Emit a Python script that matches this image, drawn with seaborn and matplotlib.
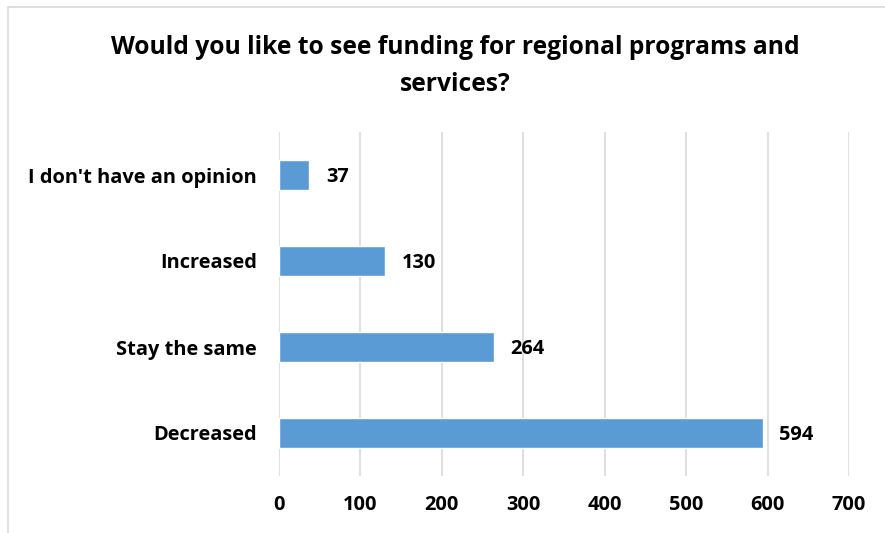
import matplotlib
matplotlib.use("Agg")
import matplotlib.pyplot as plt
import seaborn as sns
import pandas as pd
from matplotlib.patches import Rectangle

categories = ["I don't have an opinion", "Increased", "Stay the same", "Decreased"]
values = [37, 130, 264, 594]
xticks = [0, 100, 200, 300, 400, 500, 600, 700]
title = "Would you like to see funding for regional programs and\nservices?"

sns.set_theme(style="white")
plt.rcParams['font.family'] = ['Open Sans', 'DejaVu Sans']

df = pd.DataFrame({"category": categories, "value": values})

fig = plt.figure(figsize=(8.85, 5.33), dpi=100)
ax = fig.add_axes([279/885, 1-476/533, (849-279)/885, (476-132)/533])

sns.barplot(data=df, y="category", x="value", order=categories, color="#5B9BD5",
            width=0.35, saturation=1, ax=ax, zorder=3)

FS = 14.4
ax.set_xlim(0, 700)
ax.set_xticks(xticks)
ax.set_xticklabels([str(t) for t in xticks], fontsize=FS, fontweight="bold", color="black")
ax.tick_params(axis="x", length=0, pad=14)
ax.tick_params(axis="y", length=0, pad=16)
for lbl in ax.get_yticklabels():
    lbl.set_fontsize(FS)
    lbl.set_fontweight("bold")
    lbl.set_color("black")
ax.set_xlabel("")
ax.set_ylabel("")
ax.grid(axis="x", color="#D9D9D9", linewidth=1.2, zorder=0)
ax.grid(axis="y", visible=False)
for s in ax.spines.values():
    s.set_visible(False)

for i, v in enumerate(values):
    ax.annotate(str(v), xy=(v, i), xytext=(12, -1.5), textcoords="offset points",
                va="center", ha="left", fontsize=FS, fontweight="bold", color="black")

fig.text(455/885, 1-66/533, title, ha="center", va="center", fontsize=17.7,
         fontweight="bold", color="black", linespacing=1.65)

fig.patches.append(Rectangle((8/885, -0.1), 1.2, 1-7.5/533+0.1, transform=fig.transFigure,
                             fill=False, edgecolor="#D9D9D9", linewidth=1.2))

fig.savefig("out.png", dpi=100)
